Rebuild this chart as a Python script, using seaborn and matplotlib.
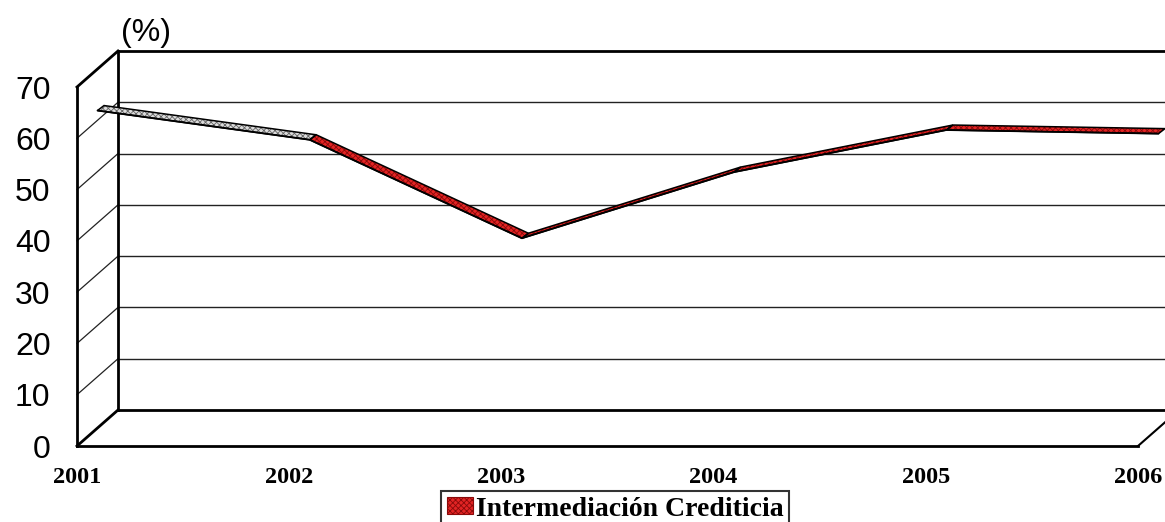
import numpy as np
import matplotlib
matplotlib.use("Agg")
import matplotlib.pyplot as plt
from matplotlib.patches import Patch
import seaborn as sns

# Data
years = ["2001", "2002", "2003", "2004", "2005", "2006"]
intermediacion = [61.9, 56.2, 37.0, 49.9, 58.1, 57.4]
y_ticks = [0, 10, 20, 30, 40, 50, 60, 70]
series_name = "Intermediación Crediticia"

sns.set_theme(style="white")
plt.rcParams["font.family"] = ["Liberation Sans", "DejaVu Sans"]
plt.rcParams["hatch.linewidth"] = 0.6
plt.rcParams["text.color"] = "black"
plt.rcParams["xtick.color"] = "black"
plt.rcParams["ytick.color"] = "black"

W, H, DPI = 1165, 522, 100
fig = plt.figure(figsize=(W / DPI, H / DPI), dpi=DPI)

# front plane of the pseudo-3D box, in pixels
left_px, right_px, bottom_px, top_px = 77, 1138, 446, 87
ax = fig.add_axes([left_px / W, 1 - bottom_px / H,
                   (right_px - left_px) / W, (bottom_px - top_px) / H])
n = len(years)
xmax, ymax = n - 1, 70
ax.set_xlim(0, xmax)
ax.set_ylim(0, ymax)
for s in ax.spines.values():
    s.set_visible(False)

# depth vector (pixels -> data units)
px_x = (right_px - left_px) / xmax
px_y = (bottom_px - top_px) / ymax
DX, DY = 41 / px_x, 36 / px_y

edge_kw = dict(color="black", clip_on=False, solid_capstyle="projecting")

# back wall gridlines and side wall diagonals
for v in y_ticks[1:-1]:
    ax.plot([DX, xmax + DX], [v + DY, v + DY], color="#222222", lw=1.0, clip_on=False)
    ax.plot([0, DX], [v, v + DY], color="#222222", lw=0.9, clip_on=False)

# box outline
ax.plot([DX, xmax + DX], [ymax + DY, ymax + DY], lw=2, **edge_kw)   # back top
ax.plot([DX, xmax + DX], [DY, DY], lw=2, **edge_kw)                 # back bottom
ax.plot([DX, DX], [DY, ymax + DY], lw=2, **edge_kw)                 # back left
ax.plot([0, 0], [0, ymax], lw=2, **edge_kw)                         # front left
ax.plot([0, xmax], [0, 0], lw=2, **edge_kw)                         # front bottom
ax.plot([0, DX], [ymax, ymax + DY], lw=2, **edge_kw)                # side top
ax.plot([0, DX], [0, DY], lw=2, **edge_kw)                          # floor left
ax.plot([xmax, xmax + DX], [0, DY], lw=1.5, **edge_kw)              # floor right

# ribbon at mid depth
xs = np.arange(n, dtype=float)
vals = np.array(intermediacion, dtype=float)
mx, my = 0.5 * DX, 0.5 * DY
tx, ty = 6.5 / px_x, 5.0 / px_y
fx, fy = xs + mx, vals + my
red = "#e32424"
for i in range(n - 1):
    px = [fx[i], fx[i + 1], fx[i + 1] + tx, fx[i] + tx]
    py = [fy[i], fy[i + 1], fy[i + 1] + ty, fy[i] + ty]
    if i == 0:
        face, hatch_c = "#dcdcdc", "#666666"
    else:
        face, hatch_c = red, "#8a0a0a"
    ax.fill(px, py, facecolor=face, edgecolor=hatch_c, hatch="xxxxxx",
            lw=0, clip_on=False, zorder=3)
    ax.fill(px, py, facecolor="none", edgecolor="black", lw=1.1,
            clip_on=False, zorder=4)

sns.lineplot(x=fx, y=fy, ax=ax, color="black", lw=1.3, sort=False,
             legend=False, zorder=5)
for ln in ax.lines:
    ln.set_clip_on(False)

# ticks
ax.set_yticks(y_ticks)
ax.set_yticklabels([str(v) for v in y_ticks], fontsize=23,
                   family=["Liberation Sans", "DejaVu Sans"])
ax.set_xticks(xs)
ax.set_xticklabels(years, fontsize=17.5, fontweight="bold",
                   family=["Liberation Serif", "DejaVu Serif"])
ax.tick_params(axis="y", length=0, pad=19)
ax.tick_params(axis="x", length=0, pad=15)
ax.set_xlabel("")
ax.set_ylabel("")
ax.grid(False)

fig.text(146 / W, 1 - 33 / H, "(%)", fontsize=23, ha="center", va="center",
         family=["Liberation Sans", "DejaVu Sans"])

handle = Patch(facecolor=red, edgecolor="#8a0a0a", hatch="xxxxxx", lw=0.8)
leg = fig.legend([handle], [series_name], loc="upper center",
                 bbox_to_anchor=(615 / W, 1 - 491 / H), frameon=True,
                 fancybox=False, handlelength=0.95, handleheight=0.55,
                 handletextpad=0.1, borderpad=0.2, borderaxespad=0,
                 prop=dict(family=["Liberation Serif", "DejaVu Serif"],
                           weight="bold", size=20))
leg.get_frame().set_edgecolor("black")
leg.get_frame().set_linewidth(1.5)

fig.savefig("out.png", dpi=DPI)
